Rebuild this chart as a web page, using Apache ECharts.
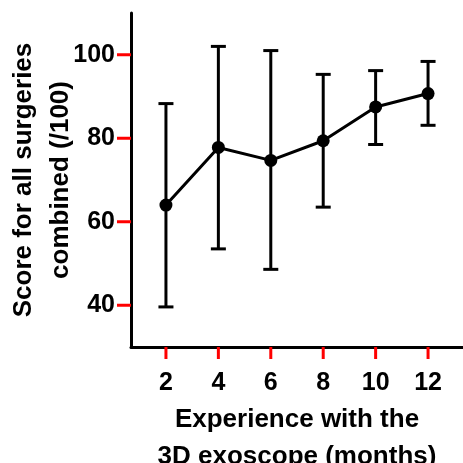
<!DOCTYPE html>
<html>
<head>
<meta charset="utf-8">
<script src="https://cdn.jsdelivr.net/npm/echarts@6/dist/echarts.min.js"></script>
<style>
    html, body { margin: 0; padding: 0; background: #fff; }
    #main { width: 463px; height: 463px; }
</style>
</head>
<body>
<div id="main"></div>
<script>
    // 数据
    var months = [2, 4, 6, 8, 10, 12];
    var scores = [64.0, 77.8, 74.7, 79.4, 87.5, 90.7];
    var errLow = [39.6, 53.5, 48.6, 63.5, 78.5, 83.1];
    var errHigh = [88.3, 102.0, 101.0, 95.3, 96.2, 98.4];
    var yTicks = [40, 60, 80, 100];

    var font = '"Liberation Sans", Arial, sans-serif';
    var xMin = 2 / 3, xMax = 40 / 3, yMin = 30, yMax = 110;

    var myChart = echarts.init(document.getElementById('main'));

    var errData = months.map(function (m, i) {
        return [m, errLow[i], errHigh[i]];
    });

    var labelStyle = {
        fontFamily: font,
        fontWeight: 'bold',
        fontSize: 25,
        color: '#000'
    };
    var nameStyle = {
        fontFamily: font,
        fontWeight: 'bold',
        fontSize: 26,
        color: '#000',
        lineHeight: 37
    };

    var option = {
        animation: false,
        grid: {
            left: 131,
            right: 0,
            top: 13,
            bottom: 116,
            outerBoundsMode: 'none',
            containLabel: false
        },
        xAxis: {
            type: 'value',
            min: xMin,
            max: xMax,
            name: 'Experience with the\n3D exoscope (months)',
            nameLocation: 'middle',
            nameGap: 54,
            nameMoveOverlap: false,
            nameTextStyle: nameStyle,
            splitLine: { show: false },
            axisLine: { onZero: false, lineStyle: { color: '#000', width: 3 } },
            axisTick: { show: false },
            axisLabel: Object.assign({ customValues: months, margin: 24 }, labelStyle)
        },
        yAxis: {
            type: 'value',
            min: yMin,
            max: yMax,
            name: 'Score for all surgeries\ncombined (/100)',
            nameLocation: 'middle',
            nameRotate: 90,
            nameGap: 52,
            nameMoveOverlap: false,
            nameTextStyle: nameStyle,
            splitLine: { show: false },
            axisLine: { show: true, onZero: false, lineStyle: { color: '#000', width: 3 } },
            axisTick: { show: false },
            axisLabel: Object.assign({ customValues: yTicks, margin: 16 }, labelStyle)
        },
        series: [
            {
                type: 'custom',
                data: errData,
                z: 2,
                renderItem: function (params, api) {
                    var x = api.value(0);
                    var lo = api.coord([x, api.value(1)]);
                    var hi = api.coord([x, api.value(2)]);
                    var half = 7.5;
                    var style = { stroke: '#000', lineWidth: 3, fill: null };
                    return {
                        type: 'group',
                        children: [
                            { type: 'line', shape: { x1: lo[0], y1: lo[1], x2: hi[0], y2: hi[1] }, style: style },
                            { type: 'line', shape: { x1: hi[0] - half, y1: hi[1], x2: hi[0] + half, y2: hi[1] }, style: style },
                            { type: 'line', shape: { x1: lo[0] - half, y1: lo[1], x2: lo[0] + half, y2: lo[1] }, style: style }
                        ]
                    };
                }
            },
            {
                type: 'line',
                z: 3,
                data: months.map(function (m, i) { return [m, scores[i]]; }),
                symbol: 'circle',
                symbolSize: 13,
                lineStyle: { color: '#000', width: 3 },
                itemStyle: { color: '#000' }
            }
        ]
    };

    myChart.setOption(option);

    // 刻度线：按坐标轴换算位置后用 graphic 画（临时用红色检查）
    function tickLine (p, dx, dy) {
        return {
            type: 'line',
            silent: true,
            z: 100,
            shape: { x1: p[0], y1: p[1], x2: p[0] + dx, y2: p[1] + dy },
            style: { stroke: '#ff0000', lineWidth: 3 }
        };
    }
    var ticks = [];
    months.forEach(function (m) {
        ticks.push(tickLine(myChart.convertToPixel({ gridIndex: 0 }, [m, yMin]), 0, 12));
    });
    yTicks.forEach(function (v) {
        ticks.push(tickLine(myChart.convertToPixel({ gridIndex: 0 }, [xMin, v]), -14, 0));
    });
    myChart.setOption({ graphic: { elements: ticks } });
</script>
</body>
</html>
